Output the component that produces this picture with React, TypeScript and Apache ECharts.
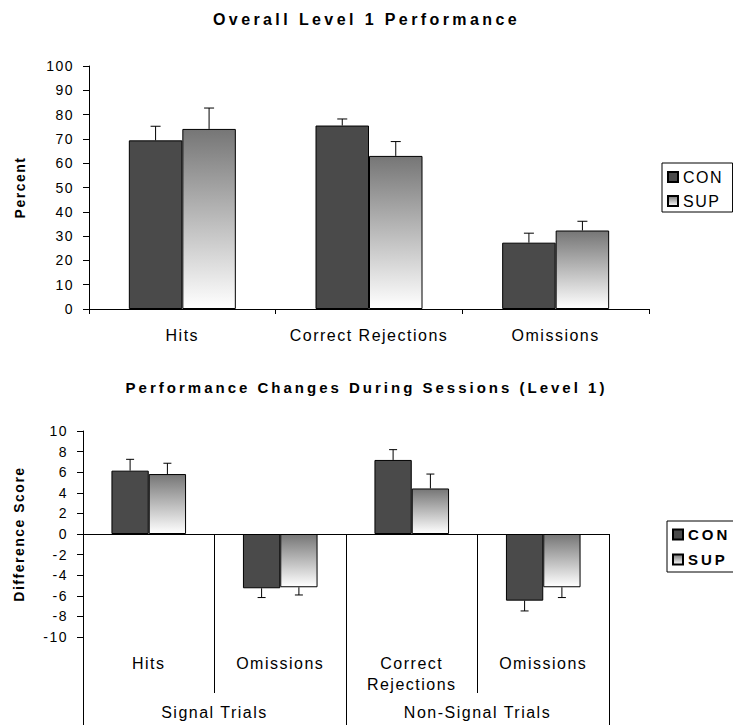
import React, { useEffect, useRef } from 'react';
import * as echarts from 'echarts';

// ---------- data ----------
const seriesNames = ['CON', 'SUP'];

const topCategories = ['Hits', 'Correct Rejections', 'Omissions'];
const topCon = [69.4, 75.5, 27.3];
const topConErr = [5.8, 2.7, 3.9];
const topSup = [74.1, 63.0, 32.3];
const topSupErr = [8.6, 5.9, 3.8];
const topAxis = { min: 0, max: 100, interval: 10 };

const bottomCategories = ['Hits', 'Omissions', 'Correct\nRejections', 'Omissions'];
const bottomGroups = ['Signal Trials', 'Non-Signal Trials'];
const bottomCon = [6.15, -5.27, 7.19, -6.47];
const bottomConErr = [1.1, 0.9, 1.0, 1.0];
const bottomSup = [5.82, -5.17, 4.42, -5.17];
const bottomSupErr = [1.05, 0.75, 1.4, 1.0];
const bottomAxis = { min: -10, max: 10, interval: 2 };

const titles = ['Overall Level 1 Performance', 'Performance Changes During Sessions (Level 1)'];
const yNames = ['Percent', 'Difference Score'];

// ---------- layout / style ----------
const FONT = '"Liberation Sans", Arial, Helvetica, sans-serif';
const CON_COLOR = '#4a4a4a';
const supGradient = () => ({
  type: 'linear', x: 0, y: 0, x2: 0, y2: 1,
  colorStops: [
    { offset: 0, color: '#767676' },
    { offset: 1, color: '#ffffff' },
  ],
});

const TOP_GRID = { left: 89, top: 66, width: 560, height: 243 };
const BOT_GRID = { left: 83, top: 431, width: 526, height: 206 };
const TOP_BAR_W = 53.5;
const BOT_BAR_W = 37.3;

function errorRenderer(offset: number, cap: number) {
  return (params: any, api: any) => {
    const idx = api.value(0);
    const base = api.coord([idx, api.value(1)]);
    const tip = api.coord([idx, api.value(2)]);
    const cx = base[0] + offset;
    const style = { stroke: '#000', lineWidth: 1 };
    return {
      type: 'group',
      children: [
        { type: 'line', shape: { x1: cx, y1: base[1], x2: cx, y2: tip[1] }, style },
        { type: 'line', shape: { x1: cx - cap / 2, y1: tip[1], x2: cx + cap / 2, y2: tip[1] }, style },
      ],
    };
  };
}

const tips = (vals: number[], errs: number[]) =>
  vals.map((v, i) => [i, v, v + Math.sign(v) * errs[i]]);

export default function App() {
  const ref = useRef<HTMLDivElement>(null);

  useEffect(() => {
    const el = ref.current!;
    const chart = echarts.init(el, null, { renderer: 'svg' });

    const axisLineStyle = { color: '#000', width: 1 };
    const labelStyle = { color: '#000', fontFamily: FONT, fontSize: 14 };
    const botZeroOffset = -BOT_GRID.height * (bottomAxis.max / (bottomAxis.max - bottomAxis.min));

    const option: any = {
      animation: false,
      backgroundColor: '#fff',
      title: [
        {
          text: titles[0], left: 'center', top: 6,
          textStyle: { fontFamily: FONT, fontSize: 16, fontWeight: 'bold', color: '#000' },
        },
        {
          text: titles[1], left: 'center', top: 375,
          textStyle: { fontFamily: FONT, fontSize: 15, fontWeight: 'bold', color: '#000' },
        },
      ],
      legend: [
        {
          data: seriesNames, orient: 'vertical', left: 662, top: 163,
          padding: [6, 14, 3, 5], itemWidth: 10, itemHeight: 10, itemGap: 8, itemTextGap: 9,
          icon: 'rect', selectedMode: false,
          backgroundColor: '#fff', borderColor: '#000', borderWidth: 1, borderRadius: 0,
          textStyle: { fontFamily: FONT, fontSize: 16, color: '#000' },
        },
        {
          data: seriesNames, orient: 'vertical', left: 667, top: 521,
          padding: [6, 14, 5, 5], itemWidth: 10, itemHeight: 10, itemGap: 10, itemTextGap: 8,
          icon: 'rect', selectedMode: false,
          backgroundColor: '#fff', borderColor: '#000', borderWidth: 1, borderRadius: 0,
          textStyle: { fontFamily: FONT, fontSize: 15, fontWeight: 'bold', color: '#000' },
        },
      ],
      grid: [
        { ...TOP_GRID, containLabel: false },
        { ...BOT_GRID, containLabel: false },
      ],
      xAxis: [
        {
          type: 'category', gridIndex: 0, data: topCategories, boundaryGap: true,
          axisLine: { show: true, lineStyle: axisLineStyle },
          axisTick: { show: true, interval: 0, length: 5, lineStyle: axisLineStyle },
          axisLabel: { ...labelStyle, fontSize: 16, margin: 18, interval: 0 },
          splitLine: { show: false },
        },
        {
          type: 'category', gridIndex: 1, data: bottomCategories, boundaryGap: true,
          position: 'bottom', offset: botZeroOffset,
          axisLine: { show: true, onZero: false, lineStyle: axisLineStyle },
          axisTick: { show: true, interval: 0, length: 159, lineStyle: axisLineStyle },
          axisLabel: { ...labelStyle, fontSize: 16, margin: 119, lineHeight: 21, interval: 0 },
          splitLine: { show: false },
        },
        {
          type: 'category', gridIndex: 1, data: bottomGroups, boundaryGap: true,
          position: 'bottom', offset: botZeroOffset,
          axisLine: { show: false, onZero: false },
          axisTick: { show: true, interval: 0, length: 200, lineStyle: axisLineStyle },
          axisLabel: { ...labelStyle, fontSize: 16, margin: 170, interval: 0 },
          splitLine: { show: false },
        },
      ],
      yAxis: [
        {
          type: 'value', gridIndex: 0, ...topAxis,
          name: yNames[0], nameLocation: 'middle', nameGap: 62,
          nameTextStyle: { fontFamily: FONT, fontSize: 14, fontWeight: 'bold', color: '#000' },
          axisLine: { show: true, lineStyle: axisLineStyle },
          axisTick: { show: true, length: 6, lineStyle: axisLineStyle },
          axisLabel: { ...labelStyle, margin: 15 },
          splitLine: { show: false },
        },
        {
          type: 'value', gridIndex: 1, ...bottomAxis,
          name: yNames[1], nameLocation: 'middle', nameGap: 57,
          nameTextStyle: { fontFamily: FONT, fontSize: 14, fontWeight: 'bold', color: '#000' },
          axisLine: { show: true, onZero: false, lineStyle: axisLineStyle },
          axisTick: { show: true, length: 6, lineStyle: axisLineStyle },
          axisLabel: { ...labelStyle, margin: 15 },
          splitLine: { show: false },
        },
      ],
      series: [
        {
          name: seriesNames[0], type: 'bar', xAxisIndex: 0, yAxisIndex: 0,
          data: topCon, barWidth: TOP_BAR_W, barGap: '0%',
          itemStyle: { color: CON_COLOR, borderColor: '#000', borderWidth: 1 },
        },
        {
          name: seriesNames[1], type: 'bar', xAxisIndex: 0, yAxisIndex: 0,
          data: topSup, barWidth: TOP_BAR_W, barGap: '0%',
          itemStyle: { color: supGradient(), borderColor: '#000', borderWidth: 1 },
        },
        {
          name: seriesNames[0], type: 'bar', xAxisIndex: 1, yAxisIndex: 1,
          data: bottomCon, barWidth: BOT_BAR_W, barGap: '0%',
          itemStyle: { color: CON_COLOR, borderColor: '#000', borderWidth: 1 },
        },
        {
          name: seriesNames[1], type: 'bar', xAxisIndex: 1, yAxisIndex: 1,
          data: bottomSup, barWidth: BOT_BAR_W, barGap: '0%',
          itemStyle: { color: supGradient(), borderColor: '#000', borderWidth: 1 },
        },
        {
          type: 'custom', xAxisIndex: 0, yAxisIndex: 0, z: 5, silent: true,
          renderItem: errorRenderer(-TOP_BAR_W / 2, 10),
          data: tips(topCon, topConErr), encode: { x: 0, y: [1, 2] },
        },
        {
          type: 'custom', xAxisIndex: 0, yAxisIndex: 0, z: 5, silent: true,
          renderItem: errorRenderer(TOP_BAR_W / 2, 10),
          data: tips(topSup, topSupErr), encode: { x: 0, y: [1, 2] },
        },
        {
          type: 'custom', xAxisIndex: 1, yAxisIndex: 1, z: 5, silent: true,
          renderItem: errorRenderer(-BOT_BAR_W / 2, 8),
          data: tips(bottomCon, bottomConErr), encode: { x: 0, y: [1, 2] },
        },
        {
          type: 'custom', xAxisIndex: 1, yAxisIndex: 1, z: 5, silent: true,
          renderItem: errorRenderer(BOT_BAR_W / 2, 8),
          data: tips(bottomSup, bottomSupErr), encode: { x: 0, y: [1, 2] },
        },
      ],
    };

    // Emulate the wide tracking of the original chart's lettering.
    const applySpacing = () => {
      el.querySelectorAll('text').forEach((t) => {
        const cs = getComputedStyle(t);
        const w = cs.fontWeight;
        const size = parseFloat(cs.fontSize);
        const bold = w === 'bold' || Number(w) >= 600;
        let s = 1.5;
        if (bold) s = size >= 16 ? 3.4 : size >= 15 ? 3.0 : 1.5;
        (t as SVGTextElement).style.letterSpacing = s + 'px';
      });
    };

    chart.setOption(option);
    applySpacing();
    chart.on('finished', applySpacing);

    return () => {
      chart.dispose();
    };
  }, []);

  return (
    <div
      ref={ref}
      style={{ position: 'absolute', left: 0, top: 0, width: 733, height: 725, background: '#fff' }}
    />
  );
}
